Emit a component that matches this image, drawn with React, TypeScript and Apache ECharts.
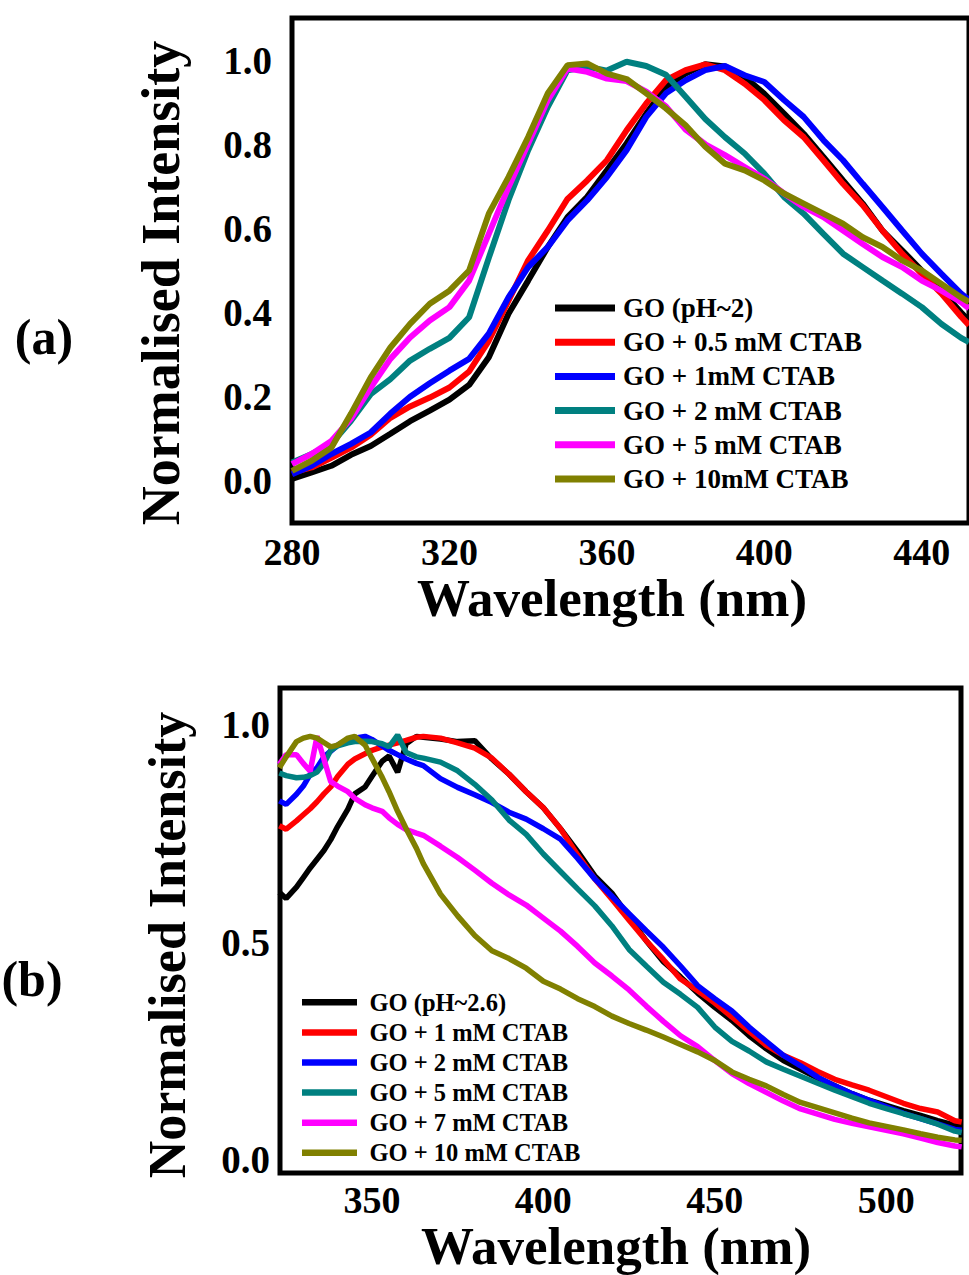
import React, { useEffect, useRef } from "react";
import * as echarts from "echarts";

const FONT = '"Liberation Serif", "Times New Roman", serif';

// ---------- Panel (a) ----------
const wavelengthA = [280, 285, 290, 295, 300, 305, 310, 315, 320, 325, 330, 335, 340, 345, 350, 355, 360, 365, 370, 375, 380, 385, 390, 395, 400, 405, 410, 415, 420, 425, 430, 435, 440, 445, 450, 452];
const goA = [0.005, 0.02, 0.036, 0.062, 0.083, 0.112, 0.142, 0.167, 0.193, 0.228, 0.294, 0.397, 0.476, 0.556, 0.627, 0.675, 0.738, 0.802, 0.873, 0.936, 0.968, 0.99, 0.985, 0.96, 0.92, 0.873, 0.825, 0.77, 0.714, 0.659, 0.595, 0.548, 0.5, 0.452, 0.4, 0.38];
const ctab05A = [0.02, 0.032, 0.055, 0.079, 0.11, 0.15, 0.177, 0.198, 0.222, 0.26, 0.333, 0.428, 0.524, 0.595, 0.67, 0.714, 0.762, 0.833, 0.897, 0.952, 0.976, 0.99, 0.976, 0.944, 0.905, 0.857, 0.817, 0.762, 0.706, 0.655, 0.595, 0.54, 0.492, 0.445, 0.39, 0.37];
const ctab1A = [0.016, 0.036, 0.064, 0.088, 0.115, 0.16, 0.2, 0.232, 0.262, 0.29, 0.35, 0.436, 0.508, 0.556, 0.619, 0.667, 0.722, 0.786, 0.865, 0.921, 0.952, 0.976, 0.986, 0.964, 0.948, 0.905, 0.865, 0.81, 0.762, 0.706, 0.651, 0.595, 0.54, 0.492, 0.445, 0.43];
const ctab2A = [0.044, 0.064, 0.088, 0.143, 0.206, 0.242, 0.286, 0.314, 0.34, 0.389, 0.53, 0.667, 0.786, 0.889, 0.976, 0.984, 0.975, 0.996, 0.986, 0.965, 0.913, 0.86, 0.817, 0.778, 0.73, 0.675, 0.635, 0.587, 0.54, 0.508, 0.476, 0.445, 0.413, 0.373, 0.34, 0.33];
const ctab5A = [0.04, 0.064, 0.095, 0.148, 0.222, 0.29, 0.341, 0.381, 0.413, 0.476, 0.587, 0.698, 0.802, 0.905, 0.98, 0.972, 0.956, 0.95, 0.925, 0.89, 0.835, 0.8, 0.774, 0.746, 0.718, 0.683, 0.651, 0.627, 0.595, 0.563, 0.532, 0.508, 0.476, 0.452, 0.425, 0.41];
const ctab10A = [0.024, 0.048, 0.079, 0.16, 0.246, 0.317, 0.373, 0.421, 0.452, 0.5, 0.635, 0.722, 0.817, 0.921, 0.988, 0.992, 0.968, 0.955, 0.921, 0.885, 0.845, 0.794, 0.754, 0.738, 0.714, 0.683, 0.659, 0.635, 0.611, 0.579, 0.556, 0.524, 0.5, 0.468, 0.436, 0.425];
const namesA = ["GO (pH~2)", "GO + 0.5 mM CTAB", "GO + 1mM CTAB", "GO + 2 mM CTAB", "GO + 5 mM CTAB", "GO + 10mM CTAB"];
const xTicksA = [280, 320, 360, 400, 440];
const yTicksA = [0, 0.2, 0.4, 0.6, 0.8, 1.0];

// ---------- Panel (b) ----------
const wavelengthB = [323, 325, 328, 330, 332, 334, 336, 338, 340, 343, 345, 348, 350, 353, 355, 357.5, 360, 363, 365, 370, 375, 380, 385, 390, 395, 400, 405, 410, 415, 420, 425, 430, 435, 440, 445, 450, 455, 460, 465, 470, 475, 480, 485, 490, 495, 500, 505, 510, 515, 520, 522];
const goB = [0.614, 0.6, 0.626, 0.648, 0.67, 0.69, 0.71, 0.735, 0.765, 0.805, 0.84, 0.856, 0.88, 0.915, 0.927, 0.89, 0.955, 0.972, 0.97, 0.966, 0.96, 0.962, 0.92, 0.885, 0.845, 0.808, 0.76, 0.708, 0.652, 0.612, 0.558, 0.503, 0.455, 0.42, 0.383, 0.35, 0.32, 0.285, 0.255, 0.228, 0.208, 0.188, 0.17, 0.152, 0.137, 0.125, 0.113, 0.102, 0.09, 0.08, 0.077];
const ctab1B = [0.767, 0.759, 0.778, 0.792, 0.806, 0.822, 0.84, 0.856, 0.88, 0.908, 0.92, 0.932, 0.94, 0.948, 0.952, 0.957, 0.963, 0.97, 0.972, 0.968, 0.957, 0.945, 0.922, 0.885, 0.845, 0.808, 0.76, 0.7, 0.645, 0.598, 0.55, 0.503, 0.46, 0.415, 0.388, 0.36, 0.328, 0.295, 0.263, 0.24, 0.223, 0.203, 0.185, 0.172, 0.16, 0.145, 0.13, 0.118, 0.11, 0.09, 0.087];
const ctab2B = [0.824, 0.816, 0.839, 0.858, 0.885, 0.9, 0.925, 0.938, 0.952, 0.965, 0.968, 0.972, 0.965, 0.95, 0.94, 0.93, 0.92, 0.91, 0.905, 0.875, 0.855, 0.838, 0.82, 0.798, 0.782, 0.76, 0.736, 0.692, 0.645, 0.605, 0.565, 0.526, 0.488, 0.445, 0.4, 0.37, 0.342, 0.305, 0.272, 0.24, 0.216, 0.19, 0.17, 0.152, 0.137, 0.122, 0.107, 0.095, 0.083, 0.07, 0.068];
const ctab5B = [0.888, 0.882, 0.877, 0.878, 0.882, 0.89, 0.91, 0.94, 0.95, 0.957, 0.96, 0.961, 0.96, 0.955, 0.948, 0.975, 0.935, 0.925, 0.922, 0.913, 0.893, 0.862, 0.826, 0.78, 0.747, 0.702, 0.662, 0.622, 0.583, 0.537, 0.483, 0.445, 0.408, 0.38, 0.35, 0.305, 0.272, 0.25, 0.225, 0.208, 0.192, 0.176, 0.16, 0.145, 0.13, 0.118, 0.106, 0.095, 0.082, 0.066, 0.063];
const ctab7B = [0.908, 0.93, 0.93, 0.91, 0.892, 0.972, 0.92, 0.868, 0.858, 0.845, 0.83, 0.815, 0.808, 0.8, 0.785, 0.77, 0.758, 0.75, 0.745, 0.72, 0.694, 0.665, 0.635, 0.608, 0.585, 0.555, 0.525, 0.49, 0.452, 0.422, 0.39, 0.353, 0.318, 0.285, 0.26, 0.228, 0.198, 0.175, 0.155, 0.135, 0.117, 0.105, 0.093, 0.084, 0.076, 0.068, 0.06, 0.05, 0.04, 0.032, 0.03];
const ctab10B = [0.9, 0.925, 0.96, 0.968, 0.972, 0.968, 0.958, 0.948, 0.952, 0.968, 0.972, 0.952, 0.922, 0.878, 0.845, 0.8, 0.76, 0.715, 0.68, 0.61, 0.56, 0.515, 0.48, 0.462, 0.44, 0.41, 0.392, 0.37, 0.352, 0.33, 0.313, 0.298, 0.282, 0.265, 0.248, 0.228, 0.202, 0.185, 0.17, 0.15, 0.132, 0.12, 0.108, 0.096, 0.085, 0.077, 0.069, 0.06, 0.052, 0.046, 0.045];
const namesB = ["GO (pH~2.6)", "GO + 1 mM CTAB", "GO + 2 mM CTAB", "GO + 5 mM CTAB", "GO + 7 mM CTAB", "GO + 10 mM CTAB"];
const xTicksB = [350, 400, 450, 500];
const yTicksB = [0, 0.5, 1.0];

const colors = ["#000000", "#ff0000", "#0000ff", "#008080", "#ff00ff", "#808000"];

const seriesA = [goA, ctab05A, ctab1A, ctab2A, ctab5A, ctab10A];
const seriesB = [goB, ctab1B, ctab2B, ctab5B, ctab7B, ctab10B];

const zip = (xs: number[], ys: number[]) => xs.map((x, i) => [x, ys[i]]);

const labelStyle = (size: number) => ({
  fontFamily: FONT,
  fontWeight: "bold" as const,
  fontSize: size,
  color: "#000",
});

const textEl = (text: string, x: number, y: number, size: number, rotation = 0) => ({
  type: "text",
  x,
  y,
  rotation,
  style: {
    text,
    fontFamily: FONT,
    fontWeight: "bold",
    fontSize: size,
    fill: "#000",
    align: "center",
    verticalAlign: "middle",
    textAlign: "center",
    textVerticalAlign: "middle",
  },
});

export default function App() {
  const ref = useRef<HTMLDivElement>(null);

  useEffect(() => {
    if (!ref.current) return;
    const chart = echarts.init(ref.current, undefined, { renderer: "svg" });

    const option: any = {
      animation: false,
      backgroundColor: "#ffffff",
      grid: [
        { left: 292, top: 18, width: 680, height: 505, show: true, borderColor: "#000", borderWidth: 5, backgroundColor: "transparent" },
        { left: 280, top: 688, width: 681, height: 485, show: true, borderColor: "#000", borderWidth: 5, backgroundColor: "transparent" },
      ],
      xAxis: [
        {
          type: "value", gridIndex: 0, min: 280, max: 452,
          axisLine: { show: false }, axisTick: { show: false }, splitLine: { show: false },
          axisLabel: { ...labelStyle(38), margin: 10, customValues: xTicksA },
        },
        {
          type: "value", gridIndex: 1, min: 323.2, max: 521.8,
          axisLine: { show: false }, axisTick: { show: false }, splitLine: { show: false },
          axisLabel: { ...labelStyle(38), margin: 8, customValues: xTicksB },
        },
      ],
      yAxis: [
        {
          type: "value", gridIndex: 0, min: -0.1, max: 1.1,
          axisLine: { show: false }, axisTick: { show: false }, splitLine: { show: false },
          axisLabel: { ...labelStyle(39), margin: 20, customValues: yTicksA, formatter: (v: number) => v.toFixed(1) },
        },
        {
          type: "value", gridIndex: 1, min: -0.03, max: 1.083,
          axisLine: { show: false }, axisTick: { show: false }, splitLine: { show: false },
          axisLabel: { ...labelStyle(39), margin: 10, customValues: yTicksB, formatter: (v: number) => v.toFixed(1) },
        },
      ],
      legend: [
        {
          orient: "vertical", left: 555, top: 294.5, padding: 0,
          icon: "rect", itemWidth: 60, itemHeight: 7, itemGap: 7.2, selectedMode: false,
          textStyle: { ...labelStyle(27), padding: [0, 0, 0, 3] },
          data: namesA.map((n, i) => ({ name: n, itemStyle: { color: colors[i] } })),
        },
        {
          orient: "vertical", left: 302, top: 989.8, padding: 0,
          icon: "rect", itemWidth: 55, itemHeight: 6.5, itemGap: 5.1, selectedMode: false,
          textStyle: { ...labelStyle(24.5), padding: [0, 0, 0, 7.5] },
          data: namesB.map((n, i) => ({ name: n, itemStyle: { color: colors[i] } })),
        },
      ],
      series: [
        ...seriesA.map((ys, i) => ({
          type: "line", name: namesA[i], xAxisIndex: 0, yAxisIndex: 0,
          data: zip(wavelengthA, ys), showSymbol: false, symbol: "none",
          lineStyle: { color: colors[i], width: 6 }, itemStyle: { color: colors[i] },
        })),
        ...seriesB.map((ys, i) => ({
          type: "line", name: namesB[i], xAxisIndex: 1, yAxisIndex: 1,
          data: zip(wavelengthB, ys), showSymbol: false, symbol: "none",
          lineStyle: { color: colors[i], width: 5.5 }, itemStyle: { color: colors[i] },
        })),
      ],
      graphic: [
        textEl("Wavelength (nm)", 612, 598, 53),
        textEl("Wavelength (nm)", 616, 1246, 53),
        textEl("Normalised Intensity", 161, 283, 54, Math.PI / 2),
        textEl("Normalised Intensity", 167, 945, 52, Math.PI / 2),
        textEl("(a)", 44, 337, 50),
        textEl("(b)", 32, 979, 50),
      ],
    };

    chart.setOption(option);
    return () => chart.dispose();
  }, []);

  return <div ref={ref} style={{ position: "absolute", left: 0, top: 0, width: 969, height: 1275 }} />;
}
